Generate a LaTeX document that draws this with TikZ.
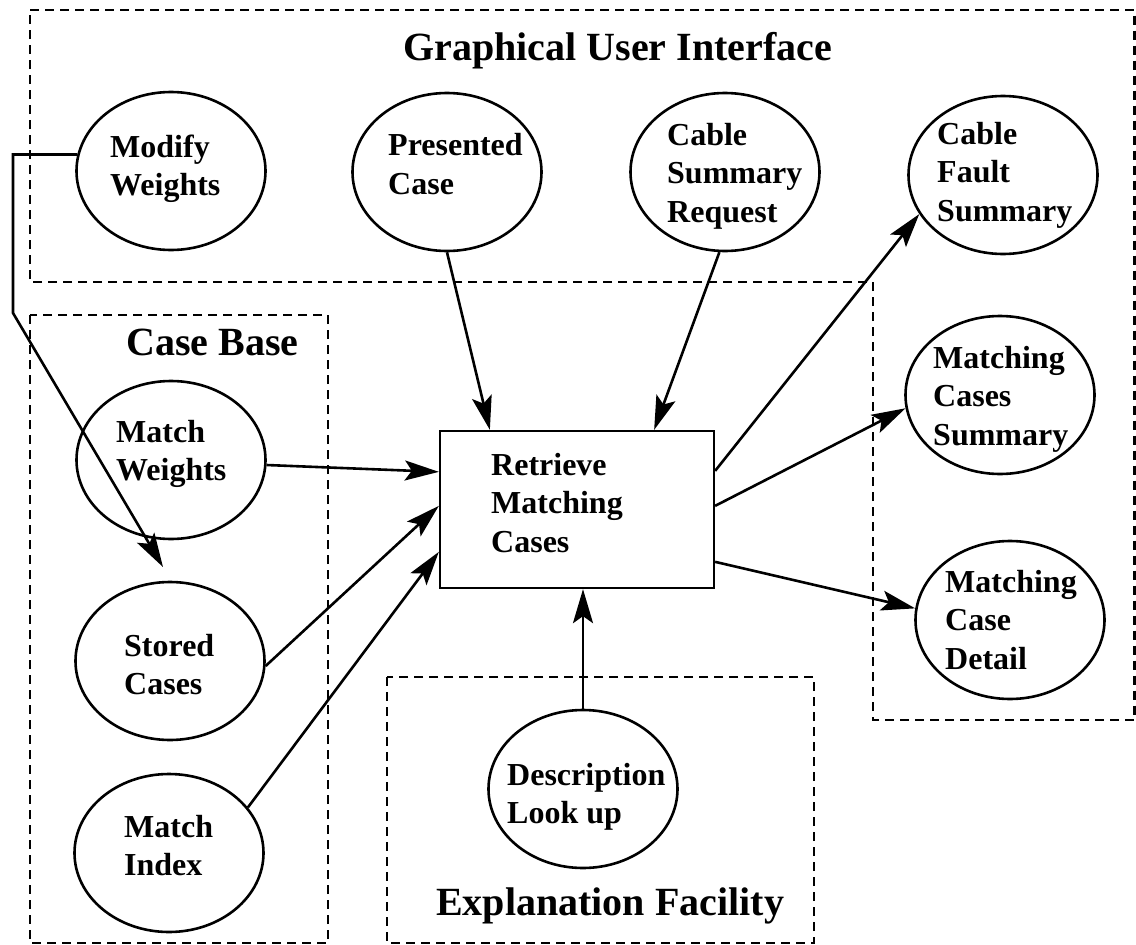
\documentclass[tikz,border=0pt]{standalone}
\usepackage{fontspec}
\setmainfont{Liberation Serif}
\usetikzlibrary{arrows.meta,shapes.geometric}
\begin{document}
\begin{tikzpicture}[x=1pt,y=-1pt,
  ell/.style={draw, line width=2.6pt, ellipse, minimum width=189pt, minimum height=158pt, inner sep=0pt},
  lbl/.style={anchor=base west, align=left, inner sep=0pt, font=\fontsize{32}{38.5}\selectfont\bfseries},
  ttl/.style={anchor=base west, inner sep=0pt, font=\fontsize{40}{48}\selectfont\bfseries},
  region/.style={line width=2.8pt, dash pattern=on 9pt off 6pt},
  arr/.style={line width=2.6pt, -{Stealth[length=34pt,width=20pt,inset=7pt]}},
  procbox/.style={draw, line width=2.3pt, minimum width=274pt, minimum height=157pt, inner sep=0pt}
  ]
\useasboundingbox (0,0) rectangle (1136,945);

% regions
\draw[region] (30,10) -- (1134.5,10) -- (1134.5,720) -- (873,720) -- (873,282) -- (30,282) -- cycle;
\draw[region] (30,315) rectangle (328,943);
\draw[region] (387,677) rectangle (814,943);

% titles
\node[ttl] (gui) at (403,60) {Graphical User Interface};
\node[ttl] (cb) at (126,355) {Case Base};
\node[ttl] (ef) at (436,915) {Explanation Facility};

% ellipses (label anchor = baseline of last line)
\node[ell] (mw) at (171,171) {};
\node[lbl] (mwt) at (110,195.5) {Modify\\Weights};
\node[ell] (pc) at (447,172) {};
\node[lbl] (pct) at (388,194) {Presented\\Case};
\node[ell] (csr) at (725,172) {};
\node[lbl] (csrt) at (667,222) {Cable\\Summary\\Request};
\node[ell] (cfs) at (1003,175) {};
\node[lbl] (cfst) at (937,221) {Cable\\Fault\\Summary};
\node[ell] (mcs) at (1000,395) {};
\node[lbl] (mcst) at (933,445) {Matching\\Cases\\Summary};
\node[ell] (mcd) at (1010,620) {};
\node[lbl] (mcdt) at (945,669) {Matching\\Case\\Detail};
\node[ell] (mwg) at (171,460) {};
\node[lbl] (mwgt) at (116,480.5) {Match\\Weights};
\node[ell] (sc) at (170,661) {};
\node[lbl] (sct) at (124,694.5) {Stored\\Cases};
\node[ell] (mi) at (169,853) {};
\node[lbl] (mit) at (124,875.5) {Match\\Index};
\node[ell] (dl) at (583,789) {};
\node[lbl] (dlt) at (507,823.5) {Description\\Look up};

% process box
\node[procbox] (rb) at (577,509.5) {};
\node[lbl] (rbt) at (491,552) {Retrieve\\Matching\\Cases};

% connectors
\coordinate (k2) at (13,313);
\coordinate (k3) at (163,567);
\draw[arr] (mw.170) -- (mw.170 -| k2) -- (k2) -- (k3);
\draw[arr] (pc.south) -- ([xshift=51pt]rb.north west);
\draw[arr] (csr.266) -- ([xshift=-61pt]rb.north east);
\draw[arr] (mwg.-3) -- ([yshift=-42pt]rb.north west);
\draw[arr] (sc.-3) -- ([yshift=-76pt]rb.north west);
\draw[arr] (mi.30) -- ([yshift=-122pt]rb.north west);
\draw[arr] ([yshift=-41pt]rb.north east) -- (cfs.205);
\draw[arr] ([yshift=-76pt]rb.north east) -- (mcs.188);
\draw[arr] ([yshift=-132pt]rb.north east) -- (mcd.173);
\draw[arr] (dl.north) -- (dl.north |- rb.south);
\end{tikzpicture}
\end{document}
